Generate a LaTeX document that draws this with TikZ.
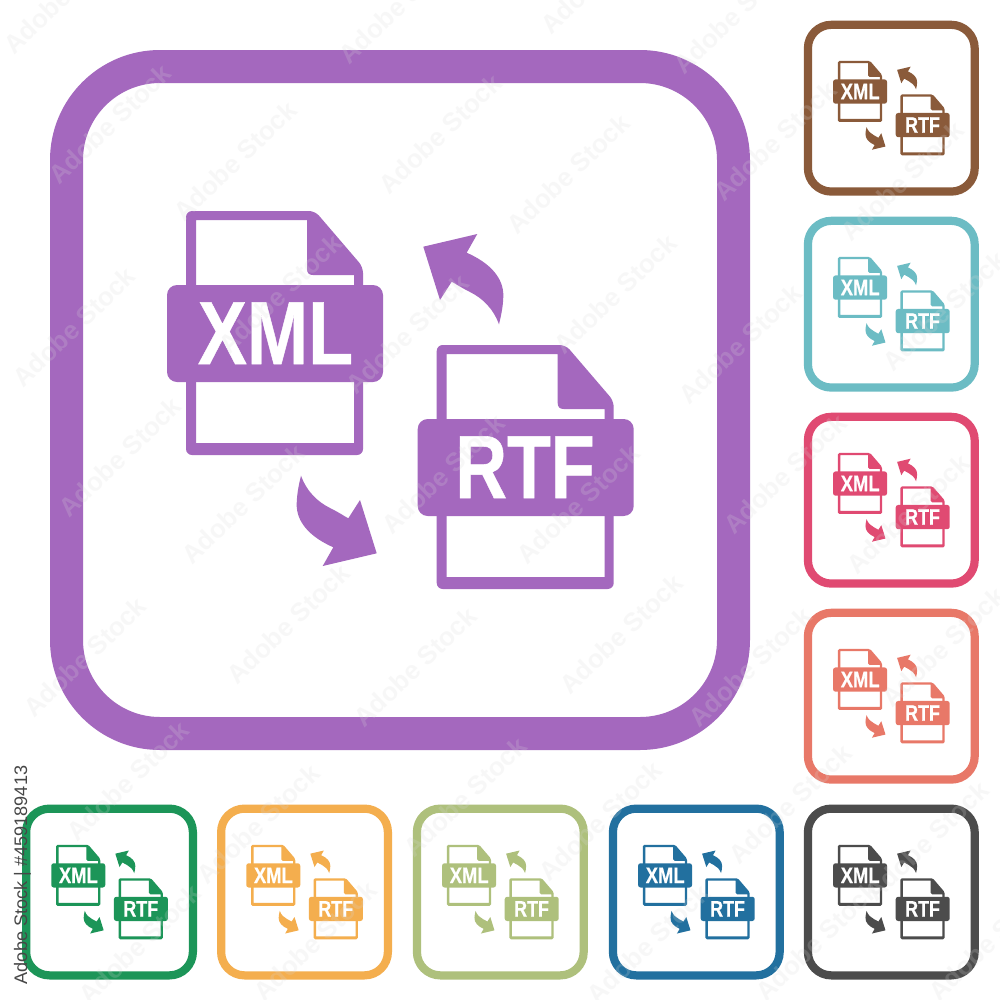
\documentclass[tikz,border=0pt]{standalone}
\usepackage{fontspec}
\usepackage{graphicx}
\setmainfont{Liberation Sans}
\definecolor{cpurple}{HTML}{A468BE}
\definecolor{cbrown}{HTML}{8A5A3A}
\definecolor{cteal}{HTML}{6CBCC4}
\definecolor{cpink}{HTML}{E04A72}
\definecolor{ccoral}{HTML}{E87868}
\definecolor{cdark}{HTML}{4C4C4C}
\definecolor{cblue}{HTML}{22709F}
\definecolor{colive}{HTML}{AEC07C}
\definecolor{corange}{HTML}{F4AE4E}
\definecolor{cgreen}{HTML}{1C9558}
\definecolor{cwm}{HTML}{DADADA}
\tikzset{
  filelabel/.style={text=white,inner sep=0pt,anchor=base,transform shape,
    font=\fontsize{90}{90}\selectfont\bfseries\addfontfeature{FakeBold=0.6}},
  wmark/.style={inner sep=0pt,rotate=44,text=cwm,opacity=.2,
    font=\fontsize{26}{26}\selectfont\bfseries},
}
% one file glyph: #1 scale, #2 node name, #3 text, #4 horizontal squeeze, #5 text x
\newcommand{\filesheet}[5]{%
  \pgfmathsetmacro\rO{6*#1}\pgfmathsetmacro\rB{10*#1}%
  \fill[ic,even odd rule,rounded corners=\rO bp]
    (0,0) -- (129,0) -- (177,56) -- (177,244) -- (0,244) -- cycle
    [sharp corners]
    (10,9) -- (121,9) -- (121,58) .. controls (121,62) and (123,64) .. (127,64)
    -- (168,64) -- (168,232) -- (10,232) -- cycle;
  \fill[ic,rounded corners=\rB bp] (-19,74) rectangle (197,171);
  \node[filelabel] (#2) at (#5,153) {\scalebox{#4}[1]{#3}};
}
% #1 prefix, #2 cx, #3 cy, #4 scale, #5 colour
\newcommand{\iconset}[5]{%
  \colorlet{ic}{#5}%
  \begin{scope}[shift={(#2,#3)},scale=#4]
    \pgfmathsetmacro\rF{110*#4}\pgfmathsetmacro\rG{77*#4}%
    \fill[ic,even odd rule,rounded corners=\rF bp] (-350,-350) rectangle (350,350)
      [rounded corners=\rG bp] (-317,-317) rectangle (317,317);
    \begin{scope}[shift={(-214,-189)}]\filesheet{#4}{#1xml}{XML}{.82}{89.5}\end{scope}
    \begin{scope}[shift={(36.7,-55)}]\filesheet{#4}{#1rtf}{RTF}{.8}{88.3}\end{scope}
    \foreach \ang in {0,180}{%
      \fill[ic,rotate=\ang] (23.3,-153.3) -- (77.3,-166) -- (66.7,-147.3)
        .. controls (90,-137) and (104,-122) .. (103.3,-103.3)
        .. controls (103,-93) and (101,-84) .. (99,-75.7)
        .. controls (93,-92) and (82,-102) .. (70,-108)
        .. controls (60,-113) and (56,-116) .. (51.7,-118.3)
        -- (40,-100) -- cycle;
    }
  \end{scope}%
}
\begin{document}
\begin{tikzpicture}[x=1bp,y=-1bp]
  \useasboundingbox (0,0) rectangle (1000,1000);
  \fill[white] (0,0) rectangle (1000,1000);
  \iconset{main}{400}{400}{1}{cpurple}
  \iconset{a}{891.3}{108.2}{.25}{cbrown}
  \iconset{b}{891.3}{304.2}{.25}{cteal}
  \iconset{c}{891.3}{500.2}{.25}{cpink}
  \iconset{d}{891.3}{696.2}{.25}{ccoral}
  \iconset{e}{891.3}{892}{.25}{cdark}
  \iconset{f}{109.5}{892}{.25}{cgreen}
  \iconset{g}{304.5}{892}{.25}{corange}
  \iconset{h}{500.3}{892}{.25}{colive}
  \iconset{i}{696.3}{892}{.25}{cblue}
  % faint stock watermark, placed as observed
  \begin{scope}
    \clip (0,0) rectangle (1000,1000);
    \foreach \wx/\wy [count=\wi] in {65/-6,400/4,110/124,235/161,440/134,74/327,407/334,280/294,
      120/457,243/504,443/474,602/-26,735/14,568/174,775/141,615/294,902/181,740/344,944/311,
      578/504,785/474,908/514,621/634,750/667,943/647,790/804,927/841,600/821,648/944,817/941,
      990/941,288/624,85/657,415/667,128/781,258/824,465/797,140/944,315/941}{%
      \node[wmark] (wm\wi) at (\wx,\wy) {Adobe Stock};
    }
  \end{scope}
  \node[rotate=90,inner sep=0pt,text=black!72,font=\fontsize{18.2}{18.2}\selectfont] (stockid) at (22.5,875) {Adobe Stock | \#459189413};
\end{tikzpicture}
\end{document}
